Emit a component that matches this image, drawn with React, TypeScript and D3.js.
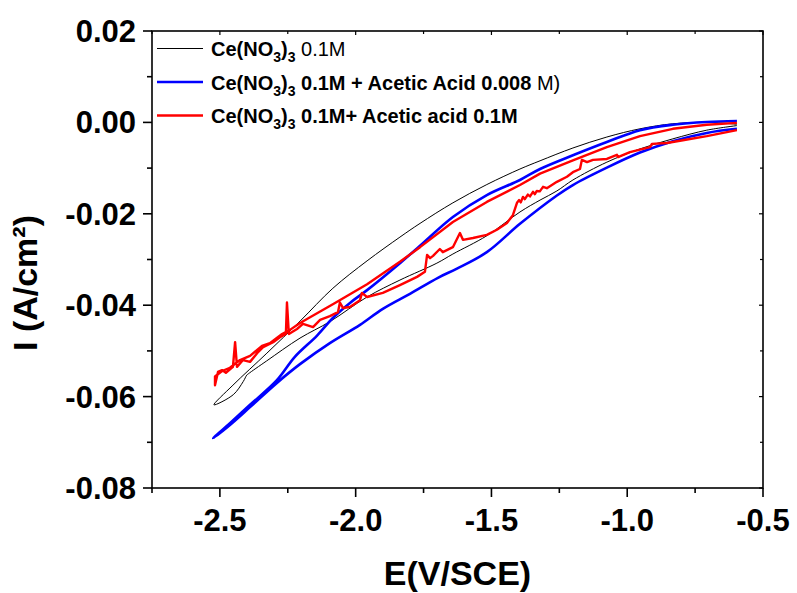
import React from 'react';
import * as d3 from 'd3';

type Pt = [number, number];

// Axis ticks
const xMajorTicks = [-2.5, -2.0, -1.5, -1.0, -0.5];
const xMajorLabels = ['-2.5', '-2.0', '-1.5', '-1.0', '-0.5'];
const xMinorTicks = [-2.75, -2.25, -1.75, -1.25, -0.75];
const yMajorTicks = [0.02, 0.0, -0.02, -0.04, -0.06, -0.08];
const yMajorLabels = ['0.02', '0.00', '-0.02', '-0.04', '-0.06', '-0.08'];
const yMinorTicks = [0.01, -0.01, -0.03, -0.05, -0.07];

// Ce(NO3)3 0.1M  (black) – closed CV loop [E (V), I (A/cm2)]
const ceNitrate: Pt[] = [
  [-0.596, -0.0004], [-0.707, 0.0], [-0.832, -0.0003], [-0.953, -0.0014], [-1.075, -0.0032],
  [-1.2, -0.0056], [-1.321, -0.0084], [-1.395, -0.0102], [-1.517, -0.0136], [-1.642, -0.0176],
  [-1.763, -0.0221], [-1.837, -0.0251], [-1.958, -0.0303], [-2.084, -0.0363], [-2.205, -0.0435],
  [-2.327, -0.0505], [-2.452, -0.0575], [-2.522, -0.0618],
  [-2.451, -0.0596], [-2.414, -0.0567], [-2.401, -0.0553], [-2.395, -0.0550], [-2.328, -0.0522],
  [-2.205, -0.0472], [-2.095, -0.0436], [-1.958, -0.0382], [-1.837, -0.0345], [-1.701, -0.0308],
  [-1.642, -0.0288], [-1.517, -0.0248], [-1.395, -0.0196], [-1.321, -0.017], [-1.259, -0.015],
  [-1.2, -0.0126], [-1.075, -0.0087], [-0.953, -0.0058], [-0.832, -0.0036], [-0.707, -0.0017],
  [-0.596, -0.0007],
];

// Ce(NO3)3 0.1M + Acetic Acid 0.008 M (blue)
const ceAcid008: Pt[] = [
  [-0.596, 0.0003], [-0.707, 0.0001], [-0.832, -0.0005], [-0.953, -0.0017], [-1.075, -0.0043],
  [-1.2, -0.0072], [-1.321, -0.0102], [-1.395, -0.0126], [-1.517, -0.0159], [-1.642, -0.0207],
  [-1.763, -0.027], [-1.837, -0.0308], [-1.958, -0.0367], [-2.021, -0.0395], [-2.084, -0.0428],
  [-2.143, -0.0467], [-2.224, -0.0513], [-2.29, -0.0564], [-2.389, -0.0618], [-2.463, -0.0658],
  [-2.525, -0.0691],
  [-2.463, -0.0662], [-2.389, -0.0623], [-2.29, -0.057], [-2.205, -0.0529], [-2.095, -0.0483],
  [-1.984, -0.0443], [-1.9, -0.0408], [-1.8, -0.0375], [-1.697, -0.034], [-1.627, -0.032],
  [-1.517, -0.0284], [-1.395, -0.0222], [-1.259, -0.016], [-1.2, -0.0137], [-1.075, -0.0099],
  [-0.953, -0.0066], [-0.832, -0.0041], [-0.707, -0.0023], [-0.596, -0.0014],
];

// Ce(NO3)3 0.1M + Acetic acid 0.1M (red)
const ceAcid01: Pt[] = [
  [-0.596, -0.0001], [-0.707, -0.0005], [-0.832, -0.0014], [-0.953, -0.003], [-1.075, -0.0054],
  [-1.2, -0.0083], [-1.321, -0.0112], [-1.395, -0.0137], [-1.517, -0.0174], [-1.642, -0.0218],
  [-1.763, -0.0273], [-1.837, -0.0305], [-1.958, -0.0354], [-2.084, -0.0398], [-2.205, -0.0439],
  [-2.242, -0.0454], [-2.271, -0.0463], [-2.316, -0.0483], [-2.345, -0.0489], [-2.389, -0.0511],
  [-2.426, -0.052], [-2.463, -0.0537], [-2.492, -0.0544], [-2.518, -0.0556],
  [-2.518, -0.0575], [-2.507, -0.0546], [-2.492, -0.0542], [-2.478, -0.0548], [-2.452, -0.0535],
  [-2.444, -0.0481], [-2.437, -0.0535], [-2.415, -0.052], [-2.389, -0.0524], [-2.363, -0.0505],
  [-2.341, -0.0492], [-2.304, -0.0481], [-2.279, -0.047], [-2.257, -0.0463], [-2.253, -0.0394],
  [-2.246, -0.0463], [-2.216, -0.0452], [-2.194, -0.0441], [-2.157, -0.0448], [-2.131, -0.0432],
  [-2.095, -0.0424], [-2.065, -0.0415], [-2.058, -0.0394], [-2.047, -0.0406], [-2.021, -0.0404],
  [-1.984, -0.0389], [-1.977, -0.0373], [-1.958, -0.0382], [-1.9, -0.0373], [-1.837, -0.0356],
  [-1.774, -0.0338], [-1.745, -0.0327], [-1.737, -0.029], [-1.726, -0.0297], [-1.715, -0.0292],
  [-1.69, -0.0277], [-1.679, -0.0284], [-1.642, -0.0273], [-1.616, -0.0242], [-1.605, -0.0257],
  [-1.568, -0.0253], [-1.517, -0.0246], [-1.48, -0.0235], [-1.443, -0.022], [-1.421, -0.0203],
  [-1.406, -0.0176], [-1.398, -0.017], [-1.392, -0.0175], [-1.384, -0.0163], [-1.377, -0.0168],
  [-1.366, -0.0158], [-1.358, -0.0162], [-1.347, -0.0152], [-1.34, -0.0157], [-1.333, -0.015],
  [-1.322, -0.0151], [-1.31, -0.0141], [-1.296, -0.0144], [-1.259, -0.013], [-1.222, -0.0119],
  [-1.2, -0.0109], [-1.174, -0.0102], [-1.167, -0.0082], [-1.148, -0.0087], [-1.126, -0.0082],
  [-1.075, -0.008], [-1.038, -0.0071], [-1.034, -0.0076], [-0.99, -0.0065], [-0.916, -0.0054],
  [-0.909, -0.0047], [-0.854, -0.0045], [-0.795, -0.0039], [-0.707, -0.003], [-0.596, -0.0017],
];

const W = 797;
const H = 593;
const FONT = "'Liberation Sans', Arial, Helvetica, sans-serif";

export default function App() {
  const left = 152, right = 763, top = 31, bottom = 488;
  const x = d3.scaleLinear().domain([-2.75, -0.5]).range([left, right]);
  const y = d3.scaleLinear().domain([-0.08, 0.02]).range([bottom, top]);

  const smooth = d3.line<Pt>().x(d => x(d[0])).y(d => y(d[1])).curve(d3.curveCatmullRom.alpha(0.5));
  const linear = d3.line<Pt>().x(d => x(d[0])).y(d => y(d[1]));

  const legendRows = [
    { color: '#000000', w: 1, yLine: 48.5 },
    { color: '#0000ff', w: 2.5, yLine: 82 },
    { color: '#ff0000', w: 2.5, yLine: 115.5 },
  ];

  const sub = (t: string, key: string) => [
    <tspan key={key + 'a'} fontSize={14} dy={6}>{t}</tspan>,
  ];

  return (
    <svg width={W} height={H} style={{ position: 'absolute', left: 0, top: 0, background: '#fff' }} fontFamily={FONT}>
      <rect x={0} y={0} width={W} height={H} fill="#fff" />
      <g clipPath="url(#plotclip)">
        <defs>
          <clipPath id="plotclip">
            <rect x={left} y={top} width={right - left} height={bottom - top} />
          </clipPath>
        </defs>
        <path d={smooth(ceNitrate) || ''} fill="none" stroke="#000" strokeWidth={1} strokeLinejoin="round" />
        <path d={smooth(ceAcid008) || ''} fill="none" stroke="#0000ff" strokeWidth={2.6} strokeLinejoin="round" />
        <path d={linear(ceAcid01) || ''} fill="none" stroke="#ff0000" strokeWidth={2.4} strokeLinejoin="round" />
      </g>

      {/* frame */}
      <rect x={left} y={top} width={right - left} height={bottom - top} fill="none" stroke="#000" strokeWidth={1.6} />

      {/* left ticks */}
      {yMajorTicks.map((t, i) => (
        <g key={'ym' + i}>
          <line x1={left - 9} x2={left} y1={y(t)} y2={y(t)} stroke="#000" strokeWidth={1.6} />
          <line x1={right - 4} x2={right} y1={y(t)} y2={y(t)} stroke="#000" strokeWidth={1.2} />
          <text x={136} y={y(t) + 11} textAnchor="end" fontSize={31} fontWeight="bold">{yMajorLabels[i]}</text>
        </g>
      ))}
      {yMinorTicks.map((t, i) => (
        <g key={'yn' + i}>
          <line x1={left - 5} x2={left} y1={y(t)} y2={y(t)} stroke="#000" strokeWidth={1.6} />
          <line x1={right - 3} x2={right} y1={y(t)} y2={y(t)} stroke="#000" strokeWidth={1.2} />
        </g>
      ))}
      {xMajorTicks.map((t, i) => (
        <g key={'xm' + i}>
          <line x1={x(t)} x2={x(t)} y1={bottom} y2={bottom + 9} stroke="#000" strokeWidth={1.6} />
          <line x1={x(t)} x2={x(t)} y1={top} y2={top + 4} stroke="#000" strokeWidth={1.2} />
          <text x={x(t)} y={531} textAnchor="middle" fontSize={31} fontWeight="bold">{xMajorLabels[i]}</text>
        </g>
      ))}
      {xMinorTicks.map((t, i) => (
        <g key={'xn' + i}>
          <line x1={x(t)} x2={x(t)} y1={bottom} y2={bottom + 5} stroke="#000" strokeWidth={1.6} />
          <line x1={x(t)} x2={x(t)} y1={top} y2={top + 3} stroke="#000" strokeWidth={1.2} />
        </g>
      ))}

      {/* axis titles */}
      <text x={(left + right) / 2} y={585} textAnchor="middle" fontSize={34} fontWeight="bold">E(V/SCE)</text>
      <text transform="translate(37,283) rotate(-90)" textAnchor="middle" fontSize={34} fontWeight="bold">I (A/cm²)</text>

      {/* legend */}
      {legendRows.map((r, i) => (
        <line key={'lg' + i} x1={157} x2={203} y1={r.yLine} y2={r.yLine} stroke={r.color} strokeWidth={r.w} />
      ))}
      <text x={211} y={56} fontSize={20}>
        <tspan fontWeight="bold">Ce(NO</tspan>
        <tspan fontWeight="bold" fontSize={14} dy={6}>3</tspan>
        <tspan fontWeight="bold" dy={-6}>)</tspan>
        <tspan fontWeight="bold" fontSize={14} dy={6}>3</tspan>
        <tspan dy={-6}> 0.1M</tspan>
      </text>
      <text x={211} y={89.5} fontSize={20}>
        <tspan fontWeight="bold">Ce(NO</tspan>
        <tspan fontWeight="bold" fontSize={14} dy={6}>3</tspan>
        <tspan fontWeight="bold" dy={-6}>)</tspan>
        <tspan fontWeight="bold" fontSize={14} dy={6}>3</tspan>
        <tspan fontWeight="bold" dy={-6}> 0.1M + Acetic Acid 0.008</tspan>
        <tspan> M)</tspan>
      </text>
      <text x={211} y={123} fontSize={20}>
        <tspan fontWeight="bold">Ce(NO</tspan>
        <tspan fontWeight="bold" fontSize={14} dy={6}>3</tspan>
        <tspan fontWeight="bold" dy={-6}>)</tspan>
        <tspan fontWeight="bold" fontSize={14} dy={6}>3</tspan>
        <tspan fontWeight="bold" dy={-6}> 0.1M+ Acetic acid 0.1M</tspan>
      </text>
    </svg>
  );
}
